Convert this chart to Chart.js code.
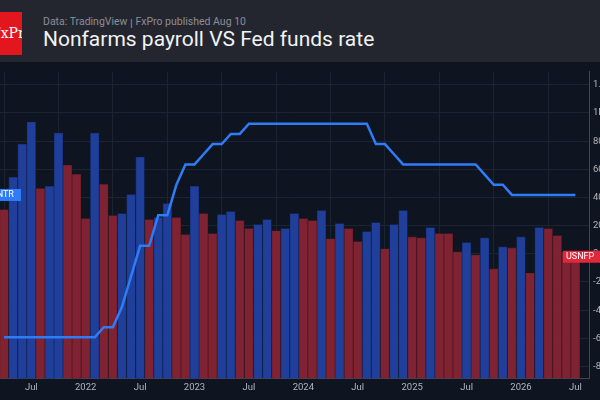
<!DOCTYPE html>
<html><head><meta charset="utf-8">
<script src="https://cdn.jsdelivr.net/npm/chart.js@4"></script>
<style>
html,body{margin:0;padding:0;width:600px;height:400px;overflow:hidden;background:#0e1420;font-family:Roboto,"Noto Sans",sans-serif}
#hdr{position:relative;width:600px;height:62px;background:#24262f}
#logo{position:absolute;left:0;top:12px;width:22px;height:43px;background:#e3161d;color:#fff;font-family:"DejaVu Serif","Liberation Serif",serif;font-size:14px;line-height:43px;overflow:hidden;white-space:nowrap;text-indent:-9px}
#sub{position:absolute;left:43px;top:14px;font-size:10.5px;color:#8b8e97}
#ttl{position:absolute;left:43px;top:27px;font-size:21px;color:#f2f2f4}
#box{position:relative;width:600px;height:338px}
</style></head><body>
<div id="hdr"><div id="logo">FxPro</div><div id="sub">Data: TradingView ꞁ FxPro published Aug 10</div><div id="ttl">Nonfarms payroll VS Fed funds rate</div></div>
<div id="box"><canvas id="c"></canvas></div>
<script>
// months starting Apr 2021 (index 0) to Jul 2026 (index 63)
const nfp = [314,543,779,936,464,479,857,629,564,250,857,493,271,286,421,686,243,257,357,257,136,479,286,
143,279,300,236,179,207,243,164,179,286,250,236,307,107,214,179,86,157,221,36,207,
307,121,114,186,143,143,14,79,-7,114,-107,50,43,121,-136,186,179,129,14,-21];
const fedRate = [0.25,0.25,0.25,0.25,0.25,0.25,0.25,0.25,0.25,0.25,0.25,0.5,0.5,1.0,1.75,2.5,2.5,3.25,3.25,4.0,4.5,4.5,4.75,5.0,5.0,5.25,5.25,
5.5,5.5,5.5,5.5,5.5,5.5,5.5,5.5,5.5,5.5,5.5,5.5,5.5,5.5,5.0,5.0,4.75,4.5,4.5,4.5,4.5,4.5,4.5,4.5,4.5,4.5,4.25,4.0,4.0,3.75,3.75,3.75,3.75,3.75,3.75,3.75,3.75];
const xTickIdx = [3,9,15,21,27,33,39,45,51,57,63];
const xTickLabels = ['Jul','2022','Jul','2023','Jul','2024','Jul','2025','Jul','2026','Jul'];
const yTicks = [-800,-600,-400,-200,0,200,400,600,800,1000,1200];
const yTickLabels = ['-800K','-600K','-400K','-200K','0','200K','400K','600K','800K','1M','1.2M'];

const BLUE='#1f3f9a', RED='#7f2332', BMIN=-886;
const barColors = nfp.map((v,i)=> (i===0 ? v<543 : v<=nfp[i-1]) ? RED : BLUE);
const barData = nfp.map((v,i)=>({x:i,y:v}));
const lineData = fedRate.map((v,i)=>({x:i,y:v}));

const tags = {id:'tags',afterDatasetsDraw(ch){
  const c=ch.ctx, ys=ch.scales.yr, yr=ch.scales.yl;
  c.save(); c.font='9px Roboto'; c.textBaseline='middle';
  let y=yr.getPixelForValue(fedRate[fedRate.length-1]);
  c.fillStyle='#2e7cf6'; c.fillRect(-20,y-6,41,12); c.fillStyle='#fff'; c.fillText('USINTR',-17,y);
  y=ys.getPixelForValue(nfp[nfp.length-1]);
  c.fillStyle='#e0283a'; c.fillRect(563,y-6,80,12); c.fillStyle='#fff'; c.fillText('USNFP   −21K',566,y);
  c.restore();
}};

new Chart(document.getElementById('c'),{
  data:{datasets:[
    {type:'line',data:lineData,xAxisID:'xx',yAxisID:'yl',borderColor:'#2e7cf6',borderWidth:2.5,pointRadius:0,tension:0,order:0},
    {type:'bar',data:barData,xAxisID:'xx',yAxisID:'yr',base:BMIN,backgroundColor:barColors,
     borderColor:barColors.map(c=>c===RED?'#5e1924':'#162e74'),borderWidth:0.7,barThickness:8.6,order:1}
  ]},
  options:{responsive:true,maintainAspectRatio:false,devicePixelRatio:1,animation:false,
    layout:{padding:{left:0,right:0,top:3,bottom:4}},
    plugins:{legend:{display:false},tooltip:{enabled:false}},
    scales:{
      xx:{axis:'x',type:'linear',position:'bottom',min:-0.45,max:64.5,offset:false,
        afterBuildTicks(s){s.ticks=xTickIdx.map(v=>({value:v}));},
        afterFit(s){s.paddingLeft=0;s.paddingRight=0;},
        ticks:{color:'#b2b5be',font:{size:9.5,family:'Roboto'},maxRotation:0,autoSkip:false,
          callback:(v)=>xTickLabels[xTickIdx.indexOf(v)]},
        grid:{color:'#1c2331',drawTicks:false},border:{color:'#434651'}},
      yr:{axis:'y',type:'linear',position:'right',min:BMIN,max:1293,
        afterBuildTicks(s){s.ticks=yTicks.map(v=>({value:v}));},
        ticks:{color:'#b2b5be',font:{size:9.5,family:'Roboto'},padding:4,
          callback:(v)=>yTickLabels[yTicks.indexOf(v)]},
        grid:{color:'#1c2331',drawTicks:false},border:{color:'#434651'},afterFit(s){s.width=11;}},
      yl:{axis:'y',type:'linear',display:false,min:-0.765,max:6.78}
    }},
  plugins:[tags]
});
</script></body></html>
